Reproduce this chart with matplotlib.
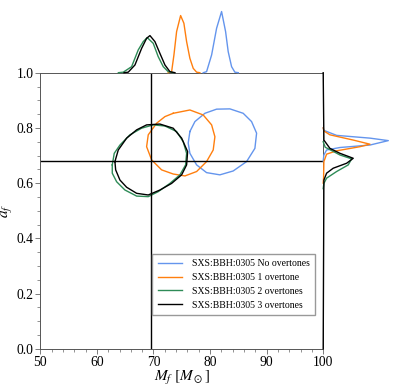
import matplotlib as mpl
mpl.use('Agg')
import matplotlib.pyplot as plt
import numpy as np

plt.rcParams['font.family'] = 'Liberation Serif'
plt.rcParams['mathtext.fontset'] = 'stix'

labels = ['SXS:BBH:0305 No overtones', 'SXS:BBH:0305 1 overtone',
          'SXS:BBH:0305 2 overtones', 'SXS:BBH:0305 3 overtones']
colors = ['cornflowerblue', '#ff7f0e', '#2e8b57', 'black']

# 90% contours (M_f, a_f)
blue_M = [76.44, 77.33, 79.09, 81.16, 83.51, 85.86, 87.34, 88.23, 87.93, 86.46, 84.09, 81.74, 79.39, 77.63, 76.44, 76.14]
blue_a = [0.787, 0.823, 0.853, 0.868, 0.869, 0.853, 0.823, 0.781, 0.726, 0.678, 0.644, 0.630, 0.638, 0.666, 0.708, 0.745]
orange_M = [73.49, 76.44, 78.79, 80.28, 80.86, 80.56, 79.39, 77.63, 75.56, 73.49, 71.44, 69.68, 68.79, 69.08, 70.56, 72.03]
orange_a = [0.853, 0.865, 0.847, 0.811, 0.768, 0.720, 0.678, 0.642, 0.626, 0.633, 0.648, 0.684, 0.732, 0.775, 0.817, 0.841]
green_M = [62.72, 63.07, 64.08, 65.84, 67.91, 69.96, 72.03, 74.09, 75.26, 75.86, 75.68, 74.68, 72.91, 70.84, 69.08, 67.03, 64.96, 63.49, 62.72]
green_a = [0.666, 0.708, 0.738, 0.775, 0.799, 0.811, 0.807, 0.787, 0.750, 0.708, 0.666, 0.630, 0.599, 0.569, 0.551, 0.553, 0.575, 0.605, 0.636]
black_M = [63.19, 63.78, 65.26, 67.03, 68.79, 71.14, 73.49, 74.98, 76.04, 75.86, 74.98, 73.21, 71.14, 69.08, 67.03, 65.26, 64.08, 63.32]
black_a = [0.678, 0.720, 0.763, 0.793, 0.811, 0.814, 0.799, 0.763, 0.714, 0.666, 0.630, 0.599, 0.575, 0.557, 0.563, 0.585, 0.611, 0.648]

# marginal densities for M_f (top)
blue_mx = [78.8, 79.39, 80.28, 81.16, 82.04, 82.75, 83.21, 83.81, 84.39, 85.0]
blue_my = [0, 0.01, 0.177, 0.443, 0.61, 0.41, 0.21, 0.06, 0.005, 0]
orange_mx = [72.6, 73.21, 73.62, 74.09, 74.80, 75.38, 75.86, 76.44, 77.03, 77.63, 78.2]
orange_my = [0, 0.01, 0.177, 0.41, 0.57, 0.493, 0.31, 0.143, 0.043, 0.005, 0]
green_mx = [63.8, 64.66, 66.14, 67.31, 68.19, 68.90, 69.96, 70.84, 71.73, 72.61, 73.5]
green_my = [0, 0.005, 0.06, 0.227, 0.31, 0.35, 0.293, 0.16, 0.06, 0.01, 0]
black_mx = [64.8, 65.54, 66.73, 67.91, 68.79, 69.38, 70.26, 71.14, 72.03, 72.91, 73.8]
black_my = [0, 0.005, 0.077, 0.243, 0.343, 0.37, 0.31, 0.193, 0.077, 0.01, 0]

# marginal densities for a_f (right)
blue_ay = [0.68, 0.702, 0.720, 0.729, 0.738, 0.754, 0.763, 0.773, 0.791, 0.80]
blue_ax = [0, 0.007, 0.034, 0.167, 0.467, 0.65, 0.467, 0.134, 0.007, 0]
orange_ay = [0.60, 0.619, 0.678, 0.705, 0.717, 0.732, 0.741, 0.756, 0.775, 0.789, 0.80]
orange_ax = [0, 0.004, 0.007, 0.034, 0.134, 0.367, 0.467, 0.30, 0.067, 0.007, 0]
green_ay = [0.58, 0.599, 0.618, 0.642, 0.666, 0.688, 0.702, 0.715, 0.73, 0.75]
green_ax = [0, 0.007, 0.034, 0.134, 0.25, 0.284, 0.167, 0.10, 0.02, 0]
black_ay = [0.0, 0.611, 0.636, 0.654, 0.672, 0.690, 0.708, 0.726, 0.756, 1.0]
black_ax = [0, 0.007, 0.034, 0.10, 0.234, 0.30, 0.167, 0.067, 0.007, 0]

M_true = 69.5
a_true = 0.68

fig = plt.figure(figsize=(3.99, 3.86), dpi=100)
ax = fig.add_axes([0.101, 0.0966, 0.709, 0.715])
axt = fig.add_axes([0.101, 0.8117, 0.709, 0.168])
axr = fig.add_axes([0.810, 0.0966, 0.175, 0.715])

conts = [(blue_M, blue_a), (orange_M, orange_a), (green_M, green_a), (black_M, black_a)]
for (xs, ys), c, lab in zip(conts, colors, labels):
    ax.plot(xs + xs[:1], ys + ys[:1], color=c, lw=1, label=lab)

ax.axvline(M_true, color='black', lw=1)
ax.axhline(a_true, color='black', lw=1)

ax.set_xlim(50, 100)
ax.set_ylim(0, 1)
ax.set_xticks(np.arange(50, 101, 10))
ax.set_yticks(np.arange(0, 1.01, 0.2))
ax.set_xticks(np.arange(50, 101, 2), minor=True)
ax.set_yticks(np.arange(0, 1.01, 0.05), minor=True)
ax.tick_params(labelsize=9.8, length=3.5, width=0.6, color='#666666', pad=1.5)
ax.tick_params(which='minor', length=2, width=0.5, color='#666666')
for s in ax.spines.values():
    s.set_color('#555555')
    s.set_linewidth(0.7)
ax.set_xlabel(r'$M_f\ [M_\odot]$', fontsize=11, labelpad=0)
ax.set_ylabel(r'$a_f$', fontsize=11, labelpad=2)
ax.legend(loc='lower right', bbox_to_anchor=(0.971, 0.122), borderaxespad=0,
          fontsize=7.0, fancybox=False, edgecolor='#999999', framealpha=1,
          handlelength=2.5, handletextpad=1.0, labelspacing=0.5, borderpad=0.55)

tops = [(blue_mx, blue_my), (orange_mx, orange_my), (green_mx, green_my), (black_mx, black_my)]
for (xs, ys), c in zip(tops, colors):
    axt.plot(xs, ys, color=c, lw=1, clip_on=False)
axt.set_xlim(50, 100)
axt.set_ylim(0, 0.647)
axt.axis('off')

rights = [(blue_ax, blue_ay), (orange_ax, orange_ay), (green_ax, green_ay), (black_ax, black_ay)]
for (xs, ys), c in zip(rights, colors):
    axr.plot(xs, ys, color=c, lw=1, clip_on=False)
axr.set_ylim(0, 1)
axr.set_xlim(0, 0.697)
axr.axis('off')

plt.savefig('out.png', dpi=100)
